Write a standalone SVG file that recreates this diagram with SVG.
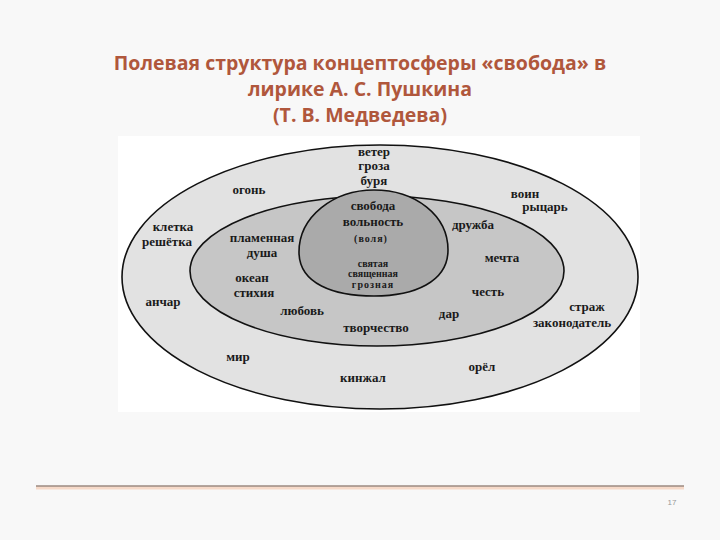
<svg xmlns="http://www.w3.org/2000/svg" width="720" height="540" viewBox="0 0 720 540">
<style>
.t{font-family:"Liberation Serif","DejaVu Serif",serif;font-weight:bold;font-size:13px;fill:#1a1a1a;text-anchor:middle}
.s{font-size:10px}
.title{font-family:"Open Sans","Liberation Sans",sans-serif;font-weight:bold;font-size:19.5px;fill:#b0573c;text-anchor:middle}
.ring{stroke:#111;stroke-width:1.6}
</style>
<rect width="720" height="540" fill="#f8f8f8"/>
<rect x="118" y="136" width="522" height="276" fill="#ffffff"/>
<g id="title">
<text class="title" x="360" y="70">Полевая структура концептосферы «свобода» в</text>
<text class="title" x="360" y="96">лирике А. С. Пушкина</text>
<text class="title" x="360" y="122">(Т. В. Медведева)</text>
</g>
<g id="outer">
<ellipse class="ring" cx="380" cy="277" rx="258" ry="132" fill="#e2e2e2"/>
</g>
<g id="middle">
<ellipse class="ring" cx="377" cy="271" rx="187" ry="75" fill="#c6c6c6"/>
</g>
<g id="inner">
<path class="ring" fill="#aaaaaa" d="M374,190 C415,190 448,215 448,250 C448,282 414,296 374,296 C334,296 299,284 299,252 C299,217 333,190 374,190 Z"/>
</g>
<g id="labels">
<text class="t" x="374" y="156">ветер</text>
<text class="t" x="374" y="170">гроза</text>
<text class="t" x="374" y="185">буря</text>
<text class="t" x="249" y="194">огонь</text>
<text class="t" x="525" y="198">воин</text>
<text class="t" x="545" y="211">рыцарь</text>
<text class="t" x="373" y="210">свобода</text>
<text class="t" x="373" y="226">вольность</text>
<text class="t s" x="371" y="242" letter-spacing="1">(воля)</text>
<text class="t" x="173" y="231">клетка</text>
<text class="t" x="167" y="246">решётка</text>
<text class="t" x="262" y="242">пламенная</text>
<text class="t" x="262" y="257">душа</text>
<text class="t" x="252" y="282">океан</text>
<text class="t" x="254" y="297">стихия</text>
<text class="t" x="473" y="229">дружба</text>
<text class="t" x="502" y="262">мечта</text>
<text class="t s" x="373" y="267">святая</text>
<text class="t s" x="373" y="277">священная</text>
<text class="t s" x="373" y="288" letter-spacing="1">грозная</text>
<text class="t" x="163" y="306">анчар</text>
<text class="t" x="488" y="296">честь</text>
<text class="t" x="302" y="315">любовь</text>
<text class="t" x="587" y="311">страж</text>
<text class="t" x="572" y="327">законодатель</text>
<text class="t" x="449" y="318">дар</text>
<text class="t" x="376" y="332">творчество</text>
<text class="t" x="238" y="361">мир</text>
<text class="t" x="482" y="371">орёл</text>
<text class="t" x="363" y="382">кинжал</text>
</g>
<g id="footer">
<line x1="36" y1="488" x2="684" y2="488" stroke="#f6d9c8" stroke-width="3"/>
<line x1="36" y1="486" x2="684" y2="486" stroke="#6e5446" stroke-width="1"/>
<text x="672" y="505" font-family="Liberation Sans, sans-serif" font-size="8" fill="#999" text-anchor="middle">17</text>
</g>
</svg>
